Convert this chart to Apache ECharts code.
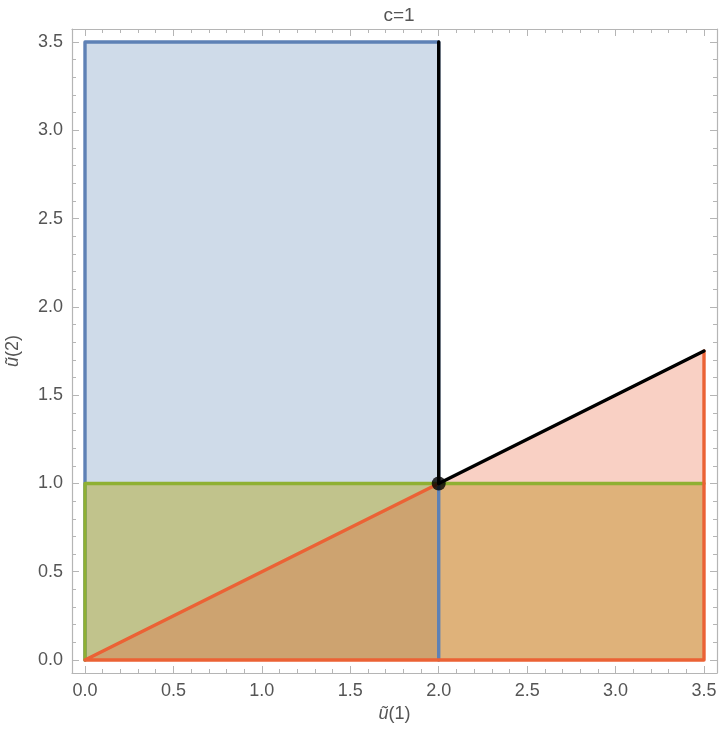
<!DOCTYPE html>
<html>
<head>
<meta charset="utf-8">
<script src="https://cdn.jsdelivr.net/npm/echarts@6/dist/echarts.min.js"></script>
<style>
  html, body { margin: 0; padding: 0; background: #fff; }
  #chart { width: 720px; height: 746px; }
</style>
</head>
<body>
<div id="chart"></div>
<script>
// tick positions
const majorTicks = [0, 0.5, 1, 1.5, 2, 2.5, 3, 3.5];
const minorTicks = [0.1, 0.2, 0.3, 0.4, 0.6, 0.7, 0.8, 0.9, 1.1, 1.2, 1.3, 1.4,
  1.6, 1.7, 1.8, 1.9, 2.1, 2.2, 2.3, 2.4, 2.6, 2.7, 2.8, 2.9, 3.1, 3.2, 3.3, 3.4];

// filled pieces of the regions (vertices in data units)
const blueOnly = [[0, 1], [2, 1], [2, 3.5], [0, 3.5]];
const blueGreen = [[0, 0], [2, 1], [0, 1]];
const blueGreenRed = [[0, 0], [2, 0], [2, 1]];
const greenRed = [[2, 0], [3.5, 0], [3.5, 1], [2, 1]];
const redOnly = [[2, 1], [3.5, 1], [3.5, 1.75]];

// borders
const blueEdge = [[0, 0], [0, 3.5], [2, 3.5], [2, 0]];
const greenEdge = [[0, 0], [0, 1], [3.5, 1]];
const redEdge = [[0, 0], [2, 1], null, [0, 0], [3.5, 0], [3.5, 1.75]];
const blackVert = [[2, 1], [2, 3.5]];
const blackDiag = [[2, 1], [3.5, 1.75]];
const point = [[2, 1]];

const chart = echarts.init(document.getElementById('chart'));
const font = 'Liberation Sans, Arial, sans-serif';
const frameColor = '#b5b5b5';
const lo = -0.0735, hi = 3.5735;

function polySeries(pts, color) {
  return {
    type: 'custom',
    xAxisIndex: 0, yAxisIndex: 0,
    silent: true,
    data: [0],
    renderItem: function (params, api) {
      return {
        type: 'polygon',
        shape: { points: pts.map(p => api.coord(p)) },
        style: { fill: color, stroke: color, lineWidth: 0.5 }
      };
    }
  };
}

function lineSeries(pts, color) {
  return {
    type: 'line',
    xAxisIndex: 0, yAxisIndex: 0,
    data: pts,
    showSymbol: false,
    symbol: 'none',
    connectNulls: false,
    silent: true,
    lineStyle: { color: color, width: 3.4, cap: 'round', join: 'round' },
    z: 3
  };
}

function axis(pos, minor, labels) {
  const a = {
    type: 'value',
    position: pos,
    min: lo, max: hi,
    splitLine: { show: false },
    axisLine: { show: !minor, onZero: false, lineStyle: { color: frameColor, width: 1.2 } },
    axisTick: {
      show: true, inside: true, length: minor ? 4 : 7,
      customValues: minor ? minorTicks : majorTicks,
      lineStyle: { color: frameColor, width: 1 }
    },
    axisLabel: { show: false },
    z: 10
  };
  if (labels) {
    a.axisLabel = {
      show: true,
      customValues: majorTicks,
      formatter: v => v.toFixed(1),
      color: '#555',
      fontSize: 18,
      fontFamily: font,
      margin: 9
    };
  }
  return a;
}

const nameRich = {
  i: { fontStyle: 'italic', fontSize: 18, color: '#555', fontFamily: font },
  n: { fontSize: 18, color: '#555', fontFamily: font }
};

const xMain = axis('bottom', false, true);
xMain.name = '{i|ũ}{n|(1)}';
xMain.nameLocation = 'middle';
xMain.nameGap = 17;
xMain.nameTextStyle = { rich: nameRich };

const yMain = axis('left', false, true);
yMain.name = '{i|ũ}{n|(2)}';
yMain.nameLocation = 'middle';
yMain.nameGap = 50;
yMain.nameRotate = 90;
yMain.nameTextStyle = { rich: nameRich };

chart.setOption({
  animation: false,
  title: {
    text: 'c=1',
    left: 394,
    top: 1,
    textAlign: 'center',
    textStyle: { fontSize: 19, fontWeight: 'normal', color: '#555', fontFamily: font }
  },
  grid: { left: 72, right: 3, top: 29, bottom: 73, outerBoundsMode: 'none', containLabel: false },
  xAxis: [xMain, axis('bottom', true, false), axis('top', false, false), axis('top', true, false)],
  yAxis: [yMain, axis('left', true, false), axis('right', false, false), axis('right', true, false)],
  series: [
    polySeries(blueOnly, '#cfdbe9'),
    polySeries(blueGreen, '#c1c38c'),
    polySeries(blueGreenRed, '#cda370'),
    polySeries(greenRed, '#dfb27a'),
    polySeries(redOnly, '#f9d0c4'),
    lineSeries(blueEdge, '#5e81b5'),
    lineSeries(greenEdge, '#8fb032'),
    lineSeries(redEdge, '#eb6235'),
    lineSeries(blackVert, '#000'),
    lineSeries(blackDiag, '#000'),
    {
      type: 'scatter',
      xAxisIndex: 0, yAxisIndex: 0,
      data: point,
      symbolSize: 14,
      itemStyle: { color: '#000' },
      silent: true,
      z: 5
    }
  ]
});
</script>
</body>
</html>
